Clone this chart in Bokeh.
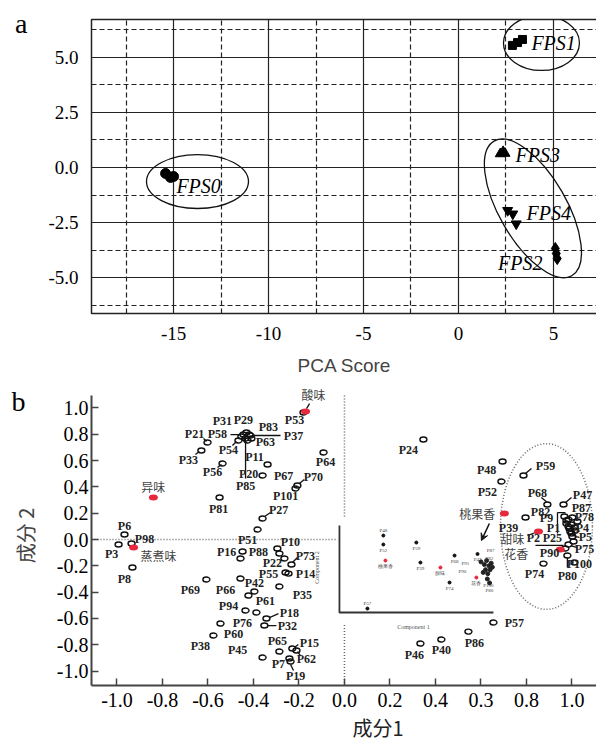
import numpy as np
from bokeh.plotting import figure
from bokeh.layouts import column
from bokeh.models import FixedTicker, Arrow, VeeHead, LinearAxis, Title
from bokeh.core.properties import value
from bokeh.embed import file_html
from bokeh.resources import INLINE

# ------------------------------------------------------------------
# Panel a : PCA scores
# ------------------------------------------------------------------
fps0_x = [-15.42, -15.16, -15.00]
fps0_y = [-0.27, -0.45, -0.41]
fps1_x = [2.84, 3.11, 3.37]
fps1_y = [5.55, 5.68, 5.82]
fps2_x = [5.10, 5.15, 5.20]
fps2_y = [-3.68, -3.91, -4.14]
fps3_x = [2.20, 2.45, 2.35]
fps3_y = [0.62, 0.64, 0.72]
fps4_x = [2.59, 2.86, 3.04]
fps4_y = [-1.95, -2.11, -2.56]
group_names = ["FPS0", "FPS1", "FPS2", "FPS3", "FPS4"]

a_xticks = [-15, -10, -5, 0, 5]
a_xminor = [-17.5, -12.5, -7.5, -2.5, 2.5]
a_yticks = [-5, -2.5, 0, 2.5, 5]
a_yminor = [-6.25, -3.75, -1.25, 1.25, 3.75, 6.25]
a_xlabels = ["-15", "-10", "-5", "0", "5"]
a_ylabels = ["-5.0", "-2.5", "0.0", "2.5", "5.0"]

# ------------------------------------------------------------------
# Panel b : loadings
# ------------------------------------------------------------------
p_names = ["P6", "P3", "P98", "P8", "P21", "P33", "P56", "P81", "P54", "P31",
           "P29", "P58", "P83", "P63", "P37", "P11", "P85", "P20", "P67", "P53",
           "P64", "P70", "P101", "P27", "P51", "P10", "P88", "P16", "P12", "P22",
           "P73", "P55", "P14", "P35", "P69", "P66", "P42", "P61", "P94", "P76",
           "P18", "P32", "P60", "P38", "P45", "P65", "P15", "P62", "P7", "P19",
           "P24", "P48", "P52", "P59", "P68", "P47", "P39", "P82", "P9", "P1",
           "P2", "P25", "P90", "P87", "P4", "P5", "P75", "P100", "P80", "P74",
           "P78", "P13", "P17", "P23", "P26", "P28", "P30",
           "P57", "P86", "P40", "P46"]
p_x = [-0.967, -0.993, -0.936, -0.932, -0.602, -0.629, -0.536, -0.549, -0.466, -0.453,
       -0.431, -0.444, -0.418, -0.409, -0.413, -0.435, -0.426, -0.360, -0.338, -0.180,
       -0.092, -0.207, -0.215, -0.360, -0.382, -0.295, -0.286, -0.448, -0.457, -0.264,
       -0.233, -0.259, -0.246, -0.286, -0.607, -0.457, -0.396, -0.422, -0.435, -0.387,
       -0.343, -0.352, -0.545, -0.576, -0.360, -0.286, -0.229, -0.211, -0.242, -0.237,
       0.347, 0.695, 0.690, 0.787, 0.892, 0.963, 0.796, 0.976, 0.976, 0.985,
       0.989, 0.993, 0.998, 1.002, 1.011, 1.002, 0.985, 0.980, 1.011, 0.875,
       1.024, 0.967, 0.985, 0.998, 1.015, 1.007, 0.971,
       0.655, 0.545, 0.426, 0.334]
p_y = [0.038, -0.038, -0.030, -0.213, 0.738, 0.677, 0.578, 0.319, 0.753, 0.783,
       0.814, 0.798, 0.798, 0.768, 0.791, 0.768, 0.753, 0.487, 0.570, 0.966,
       0.662, 0.411, 0.388, 0.160, 0.076, -0.068, -0.106, -0.091, -0.144, -0.144,
       -0.190, -0.251, -0.259, -0.357, -0.304, -0.297, -0.395, -0.426, -0.540, -0.555,
       -0.601, -0.654, -0.639, -0.730, -0.897, -0.852, -0.829, -0.844, -0.905, -0.928,
       0.760, 0.593, 0.441, 0.487, 0.266, 0.266, 0.167, 0.144, 0.122, 0.099,
       0.084, 0.061, 0.046, 0.167, 0.091, 0.023, -0.038, -0.122, -0.175, -0.183,
       0.137, 0.175, 0.152, 0.114, 0.068, -0.015, -0.068,
       -0.631, -0.700, -0.760, -0.791]

attr_names = ["异味", "蒸煮味", "酸味", "桃果香", "甜味", "花香"]
attr_x = [-0.840, -0.927, -0.171, 0.703, 0.853, 0.949]
attr_y = [0.319, -0.061, 0.973, 0.198, 0.061, -0.076]

# small inset (copy of the score map in the original figure)
inset_names = ["P48", "P52", "桃果香", "P59", "P39", "甜味", "P68", "P74", "P57", "花香", "P47"]
inset_x = [0.171, 0.171, 0.180, 0.316, 0.334, 0.422, 0.484, 0.462, 0.101, 0.580, 0.585]
inset_y = [0.030, -0.038, -0.160, -0.023, -0.175, -0.213, -0.122, -0.327, -0.525, -0.289, -0.110]
inset_cluster_x = [0.600, 0.615, 0.625, 0.635, 0.640, 0.620, 0.630, 0.645, 0.610, 0.650, 0.628, 0.638]
inset_cluster_y = [-0.170, -0.190, -0.160, -0.200, -0.230, -0.230, -0.260, -0.180, -0.250, -0.210, -0.300, -0.330]
inset_extra_labels = ["P87", "P82", "P91", "P90", "P100", "P80"]

b_ticks = [-1.0, -0.8, -0.6, -0.4, -0.2, 0.0, 0.2, 0.4, 0.6, 0.8, 1.0]
b_xlabels = ["-1.0", "-0.8", "-0.6", "-0.4", "-0.2", "0.0", "0.2", "0.4", "0.3", "0.8", "1.0"]
b_ylabels = ["-1.0", "-0.8", "-0.6", "-0.4", "-0.2", "0.0", "0.2", "0.4", "0.6", "0.8", "1.0"]

# ------------------------------------------------------------------
# layout (screen-pixel offsets of labels relative to their points)
# ------------------------------------------------------------------
label_off = {
    "P6": (0, -9), "P3": (-7, 9), "P98": (13, -4), "P8": (-8, 11), "P21": (-13, -8),
    "P33": (-13, 10), "P56": (-10, 9), "P81": (-1, 11), "P54": (-10, 10), "P31": (-19, -16),
    "P29": (-3, -12), "P58": (-26, -1), "P83": (19, -8), "P63": (14, 3), "P37": (43, 1),
    "P11": (9, 18), "P85": (-2, 46), "P20": (-14, -1), "P67": (16, 11), "P53": (-9, 8),
    "P64": (2, 10), "P70": (16, -8), "P101": (-10, 8), "P27": (16, -8), "P51": (-10, 10),
    "P10": (13, -6), "P88": (-21, -1), "P16": (-16, 1), "P22": (-12, 5), "P73": (14, -9),
    "P55": (-17, 1), "P14": (17, 0), "P35": (23, 9), "P69": (-16, 11), "P66": (-15, 11),
    "P42": (0, -8), "P61": (17, 5), "P94": (-17, -5), "P76": (-14, 10), "P18": (23, -6),
    "P32": (23, 0), "P60": (13, 10), "P38": (-13, 10), "P45": (-25, -7), "P65": (-2, -11),
    "P15": (17, -6), "P62": (10, 8), "P7": (-11, 5), "P19": (5, 14),
    "P24": (-15, 10), "P48": (-16, 8), "P52": (-14, 10), "P59": (22, -9), "P68": (-10, -12),
    "P47": (19, -10), "P39": (-17, 10), "P82": (-26, -9), "P9": (-20, -5), "P1": (-15, 2),
    "P2": (-36, 10), "P25": (-18, 7), "P90": (-22, 20), "P87": (9, -10), "P4": (8, 0),
    "P5": (13, 1), "P75": (16, 4), "P100": (12, 8), "P80": (-7, 13), "P74": (-9, 10),
    "P78": (7, -4), "P57": (21, 0), "P86": (6, 11), "P40": (0, 11), "P46": (-6, 11),
}
leader_off = {
    "P58": ((-3, 0), (-13, 0)), "P37": ((3, 0), (30, 0)), "P85": ((-2, -7), (-2, 38)),
    "P18": ((3, -1), (12, -5)), "P32": ((3, 0), (12, 0)), "P19": ((0, 3), (3, 9)),
    "P73": ((1, -2), (6, -7)), "P70": ((2, -2), (7, -6)), "P27": ((2, -2), (8, -6)),
    "P15": ((2, -1), (6, -4)), "P62": ((1, 1), (4, 5)), "P59": ((2, -2), (8, -7)),
    "P68": ((0, -2), (-6, -7)), "P47": ((2, -2), (8, -7)), "P100": ((0, 2), (0, 12)),
    "P5": ((2, 0), (7, 1)), "P75": ((2, 1), (9, 3)), "P9": ((-9, -11), (-9, 10)),
    "P82": ((-9, -8), (-1, -8)), "P90": ((-36, 12), (-8, 12)), "P54": ((-2, 1), (-6, 5)),
    "P56": ((-1, 1), (-5, 4)), "P33": ((-2, 1), (-6, 4)), "P21": ((-1, -1), (-4, -4)),
}
attr_off = {"异味": (0, -11), "蒸煮味": (25, 8), "酸味": (8, -17),
            "桃果香": (-27, 0), "甜味": (-26, 7), "花香": (-44, 4)}
attr_leader = {"酸味": ((1, -3), (4, -8)), "甜味": ((-3, 1), (-11, 4))}

SERIF = "Liberation Serif"
CJK = "Noto Sans CJK SC"

# ------------------------------------------------------------------
# Panel a figure
# ------------------------------------------------------------------
ax0, ax1 = -19.32, 7.32
ay0, ay1 = -6.636, 6.727
pa = figure(frame_width=506, frame_height=294, x_range=(ax0, ax1), y_range=(ay0, ay1),
            min_border_left=88, min_border_right=2, min_border_top=19, min_border_bottom=72,
            output_backend="svg", toolbar_location=None)
pa.xaxis.ticker = FixedTicker(ticks=a_xticks, minor_ticks=a_xminor)
pa.yaxis.ticker = FixedTicker(ticks=a_yticks, minor_ticks=a_yminor)
pa.xaxis.major_label_overrides = {t: s for t, s in zip(a_xticks, a_xlabels)}
pa.yaxis.major_label_overrides = {t: s for t, s in zip(a_yticks, a_ylabels)}
for ax in (pa.xaxis, pa.yaxis):
    ax.axis_line_color = None
    ax.major_tick_line_color = None
    ax.minor_tick_line_color = None
    ax.major_label_text_font = SERIF
    ax.major_label_text_font_size = "19px"
    ax.major_label_text_color = "black"
    ax.major_label_standoff = 7
pa.xaxis.axis_label = "PCA Score"
pa.xaxis.axis_label_text_font = "Liberation Sans"
pa.xaxis.axis_label_text_font_style = "normal"
pa.xaxis.axis_label_text_font_size = "19px"
pa.xaxis.axis_label_standoff = 12
for g in (pa.xgrid, pa.ygrid):
    g.grid_line_color = "#222222"
    g.grid_line_width = 1.2
    g.grid_line_alpha = 1
    g.minor_grid_line_color = "#222222"
    g.minor_grid_line_width = 1.2
    g.minor_grid_line_dash = "5 3"
pa.outline_line_color = "#222222"
pa.outline_line_width = 1.5

# panel letter "a" carried by an extra, otherwise invisible, left axis
a_letter_axis = LinearAxis(ticker=FixedTicker(ticks=[6.55]), major_label_overrides={6.55: "a"},
                           axis_line_color=None, major_tick_line_color=None,
                           minor_tick_line_color=None, major_label_text_font=SERIF,
                           major_label_text_font_size="28px", major_label_text_color="black",
                           major_label_standoff=12)
pa.add_layout(a_letter_axis, "left")

pa.scatter(fps0_x, fps0_y, marker="circle", color="black", size=10)
pa.scatter(fps1_x, fps1_y, marker="square", color="black", size=8)
pa.scatter(fps2_x, fps2_y, marker="diamond", color="black", size=12)
pa.scatter(fps3_x, fps3_y, marker="triangle", color="black", size=10)
pa.scatter(fps4_x, fps4_y, marker="inverted_triangle", color="black", size=10)

pa.ellipse(x=[-13.74, 4.37, 3.92], y=[-0.64, 5.66, -1.86], width=[5.37, 4.0, 3.53],
           height=[2.45, 2.5, 7.07], angle=[0, 0, 0.524],
           fill_color=None, line_color="#111111", line_width=1.3)

grp_lab_x = [-14.85, 3.84, 4.42, 3.0, 3.58]
grp_lab_y = [-0.82, 5.68, -4.32, 0.55, -2.05]
grp_align = ["left", "left", "right", "left", "left"]
pa.text(x=grp_lab_x, y=grp_lab_y, text=group_names, text_align=grp_align,
        text_baseline="middle", text_font=value(SERIF), text_font_style="italic",
        text_font_size="20px", text_color="black")

# ------------------------------------------------------------------
# Panel b figure
# ------------------------------------------------------------------
bx0, bx1 = -1.112, 1.108
by0, by_axis_top, by1 = -1.110, 1.095, 1.171
FW, FH = 505, 300
kx = FW / (bx1 - bx0)
ky = FH / (by1 - by0)

pb = figure(frame_width=FW, frame_height=FH, x_range=(bx0, bx1), y_range=(by0, by1),
            min_border_left=91, min_border_right=0, min_border_top=0, min_border_bottom=56,
            output_backend="svg", toolbar_location=None)
pb.xaxis.ticker = FixedTicker(ticks=b_ticks)
pb.yaxis.ticker = FixedTicker(ticks=b_ticks)
pb.xaxis.major_label_overrides = {t: s for t, s in zip(b_ticks, b_xlabels)}
pb.yaxis.major_label_overrides = {t: s for t, s in zip(b_ticks, b_ylabels)}
pb.yaxis.bounds = (by0, by_axis_top)
pb.grid.grid_line_color = None
pb.outline_line_color = None
for ax in (pb.xaxis, pb.yaxis):
    ax.axis_line_color = "#444444"
    ax.axis_line_width = 2
    ax.major_tick_line_color = "#444444"
    ax.major_tick_line_width = 1.5
    ax.major_tick_in = 7
    ax.major_tick_out = 0
    ax.minor_tick_line_color = None
    ax.major_label_text_font = SERIF
    ax.major_label_text_font_size = "20px"
    ax.major_label_text_color = "black"
pb.xaxis.major_label_standoff = 7
pb.yaxis.major_label_standoff = 3
pb.yaxis.axis_label = "成分 2"
pb.yaxis.axis_label_text_font = CJK
pb.yaxis.axis_label_text_font_style = "normal"
pb.yaxis.axis_label_text_font_size = "20px"
pb.yaxis.axis_label_standoff = 14

# panel letter "b"
b_letter_axis = LinearAxis(ticker=FixedTicker(ticks=[1.057]), major_label_overrides={1.057: "b"},
                           axis_line_color=None, major_tick_line_color=None,
                           minor_tick_line_color=None, major_label_text_font=SERIF,
                           major_label_text_font_size="28px", major_label_text_color="black",
                           major_label_standoff=-24)
pb.add_layout(b_letter_axis, "left")

# x-axis title, shifted right as in the original
pb.add_layout(Title(text="成分1", align="left", offset=261, text_font=CJK,
                    text_font_style="normal", text_font_size="20px", text_color="#222222",
                    standoff=2), "below")

# dotted reference lines
dot = dict(line_color="#666666", line_width=1.5, line_dash="1 2")
pb.line([0, 0], [by_axis_top, 0.16], **dot)
pb.line([0, 0], [-0.65, by0], **dot)
pb.line([bx0, -0.03], [0, 0], **dot)
pb.ellipse(x=[0.888], y=[0.099], width=0.404, height=1.26, fill_color=None, **dot)

# inset (small score map)
ins_l, ins_b, ins_t, ins_r = -0.022, -0.555, 0.106, 0.655
pb.line([ins_l, ins_l, ins_r], [ins_t, ins_b, ins_b], line_color="#333333", line_width=1.8)
pb.scatter(inset_x, inset_y, size=3,
           color=["#e8283c" if n in attr_names else "#111111" for n in inset_names])
pb.scatter(inset_cluster_x, inset_cluster_y, size=4, color="#222222")
in_lab_dy = [-5 if n in ("P48", "P57") else 6 for n in inset_names]
pb.text(x=inset_x, y=[y - d / ky for y, d in zip(inset_y, in_lab_dy)],
        text=inset_names, text_align="center", text_baseline="middle",
        text_font=value(SERIF), text_font_size="5px", text_color="#444444")
ex_x = [0.643, 0.637, 0.532, 0.518, 0.633, 0.637]
ex_y = [-0.084, -0.144, -0.182, -0.243, -0.350, -0.388]
pb.text(x=ex_x, y=ex_y, text=inset_extra_labels, text_align="center", text_baseline="middle",
        text_font=value(SERIF), text_font_size="5px", text_color="#444444")
pb.text(x=[0.303], y=[-0.669], text=["Component 1"], text_align="center", text_baseline="middle",
        text_font=value(SERIF), text_font_size="6px", text_color="#555555")
pb.text(x=[-0.119], y=[-0.213], text=["Component 2"], angle=np.pi / 2, text_align="center",
        text_baseline="middle", text_font=value(SERIF), text_font_size="6px", text_color="#555555")
pb.add_layout(Arrow(end=VeeHead(size=7, line_color="#111111", fill_color="#111111"),
                    x_start=0.637, y_start=0.122, x_end=0.602, y_end=-0.008,
                    line_color="#111111", line_width=1.5))

# leader lines
sx0, sy0, sx1, sy1 = [], [], [], []
for n, x, y in zip(p_names, p_x, p_y):
    if n in leader_off:
        (a1, b1), (a2, b2) = leader_off[n]
        sx0.append(x + a1 / kx); sy0.append(y - b1 / ky)
        sx1.append(x + a2 / kx); sy1.append(y - b2 / ky)
for n, x, y in zip(attr_names, attr_x, attr_y):
    if n in attr_leader:
        (a1, b1), (a2, b2) = attr_leader[n]
        sx0.append(x + a1 / kx); sy0.append(y - b1 / ky)
        sx1.append(x + a2 / kx); sy1.append(y - b2 / ky)
pb.segment(sx0, sy0, sx1, sy1, line_color="#111111", line_width=1.3)

# loading points (open ellipses) and sensory attributes (red)
pb.ellipse(x=p_x, y=p_y, width=7, height=5, width_units="screen", height_units="screen",
           fill_color=None, line_color="#111111", line_width=1.4)
pb.ellipse(x=attr_x, y=attr_y, width=9, height=6, width_units="screen", height_units="screen",
           fill_color="#e8283c", line_color=None)

lx, ly, lt = [], [], []
for n, x, y in zip(p_names, p_x, p_y):
    if n in label_off:
        dx, dy = label_off[n]
        lx.append(x + dx / kx); ly.append(y - dy / ky); lt.append(n)
pb.text(x=lx, y=ly, text=lt, text_align="center", text_baseline="middle",
        text_font=value(SERIF), text_font_style="bold", text_font_size="12px",
        text_color="#222222")
alx = [x + attr_off[n][0] / kx for n, x in zip(attr_names, attr_x)]
aly = [y - attr_off[n][1] / ky for n, y in zip(attr_names, attr_y)]
pb.text(x=alx, y=aly, text=attr_names, text_align="center", text_baseline="middle",
        text_font=value(CJK), text_font_size="12px", text_color="#444444")

layout = column(pa, pb, spacing=0)
open("out.html", "w").write(file_html(layout, INLINE))
